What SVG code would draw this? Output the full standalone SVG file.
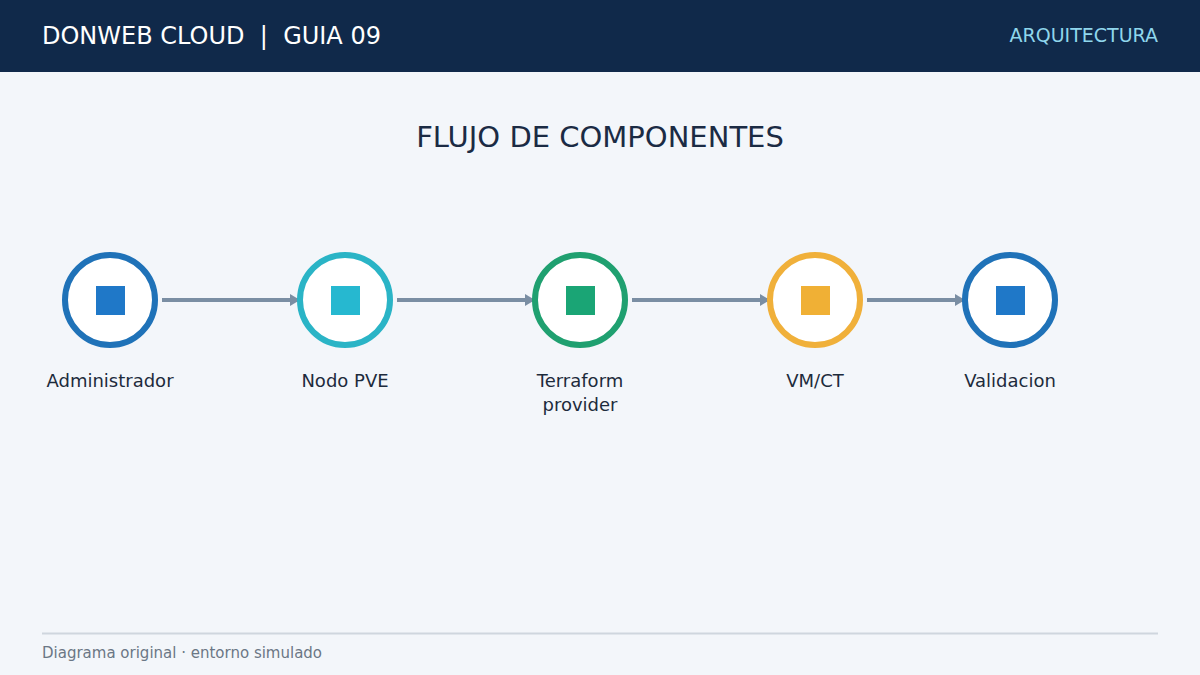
<svg xmlns="http://www.w3.org/2000/svg" width="1200" height="675" viewBox="0 0 1200 675">
<defs>
<style>
text{font-family:"DejaVu Sans","Noto Sans",sans-serif}
.ring{fill:#ffffff;stroke-width:6}
.lbl{font-size:18px;fill:#1d2b3c;text-anchor:middle}
.conn{stroke:#7a8ea3;stroke-width:4;fill:none;marker-end:url(#ah)}
</style>
<marker id="ah" markerWidth="10" markerHeight="12" refX="9" refY="6" orient="auto" markerUnits="userSpaceOnUse">
<path d="M0,0 L10,6 L0,12 Z" fill="#7a8ea3"/>
</marker>
</defs>
<rect width="1200" height="675" fill="#f3f6fa"/>
<g id="header">
<rect width="1200" height="72" fill="#10294a"/>
<text x="42" y="44" font-size="24" fill="#ffffff" xml:space="preserve" style="white-space:pre">DONWEB CLOUD  |  GUIA 09</text>
<text x="1158" y="42" font-size="19" fill="#8fd6ec" text-anchor="end">ARQUITECTURA</text>
</g>
<text id="title" x="600" y="147" font-size="29" fill="#1b2b44" text-anchor="middle">FLUJO DE COMPONENTES</text>
<g id="connectors">
<line class="conn" x1="162" y1="300" x2="299" y2="300"/>
<line class="conn" x1="397" y1="300" x2="534" y2="300"/>
<line class="conn" x1="632" y1="300" x2="769" y2="300"/>
<line class="conn" x1="867" y1="300" x2="964" y2="300"/>
</g>
<g id="n1">
<circle class="ring" cx="110" cy="300" r="45" stroke="#1f72b8"/>
<rect x="96" y="286" width="29" height="29" fill="#1f78c8"/>
<text class="lbl" x="110" y="387">Administrador</text>
</g>
<g id="n2">
<circle class="ring" cx="345" cy="300" r="45" stroke="#2ab4c6"/>
<rect x="331" y="286" width="29" height="29" fill="#26b8d0"/>
<text class="lbl" x="345" y="387">Nodo PVE</text>
</g>
<g id="n3">
<circle class="ring" cx="580" cy="300" r="45" stroke="#1fa070"/>
<rect x="566" y="286" width="29" height="29" fill="#1aa575"/>
<text class="lbl" x="580" y="387">Terraform</text>
<text class="lbl" x="580" y="411">provider</text>
</g>
<g id="n4">
<circle class="ring" cx="815" cy="300" r="45" stroke="#f0b03a"/>
<rect x="801" y="286" width="29" height="29" fill="#f0b035"/>
<text class="lbl" x="815" y="387">VM/CT</text>
</g>
<g id="n5">
<circle class="ring" cx="1010" cy="300" r="45" stroke="#1f72b8"/>
<rect x="996" y="286" width="29" height="29" fill="#1f78c8"/>
<text class="lbl" x="1010" y="387">Validacion</text>
</g>
<g id="footer">
<line x1="42" y1="633.5" x2="1158" y2="633.5" stroke="#cfd6de" stroke-width="2"/>
<text x="42" y="658" font-size="15" fill="#6b7785">Diagrama original · entorno simulado</text>
</g>
</svg>
